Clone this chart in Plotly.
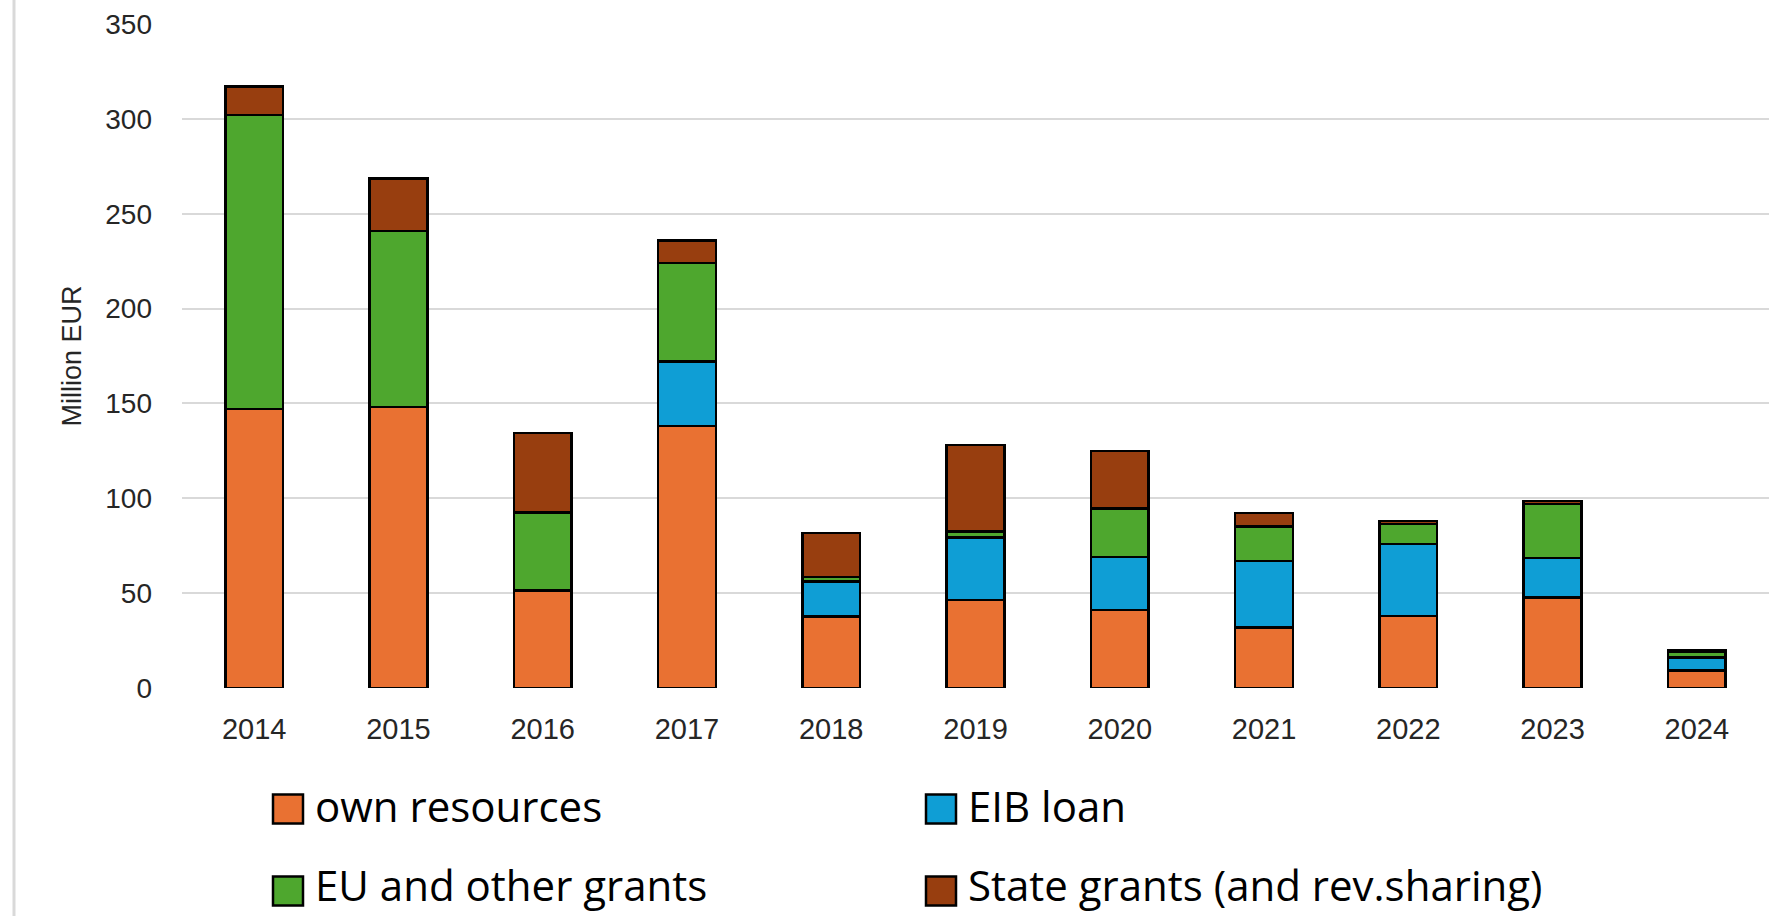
import plotly.graph_objects as go

# Financing of investments by source, million EUR
years = ["2014", "2015", "2016", "2017", "2018", "2019", "2020", "2021", "2022", "2023", "2024"]
own_resources = [147, 148, 51.5, 138, 37.6, 46.4, 41, 32, 38, 47.6, 9.3]
eib_loan = [0, 0, 0, 34, 18.5, 33, 28, 35, 38, 21, 6.7]
eu_other_grants = [155, 93, 41, 52, 2.3, 3, 25.7, 18, 10.5, 28.5, 3]
state_grants = [15, 27.5, 42, 12, 23.2, 45.6, 30.2, 7.3, 1.5, 1.5, 1]

series = [
    ("own resources", own_resources, "#E97132"),
    ("EIB loan", eib_loan, "#0F9ED5"),
    ("EU and other grants", eu_other_grants, "#4EA72E"),
    ("State grants (and rev.sharing)", state_grants, "#983E0F"),
]

W, H = 1778, 916
ML, MR, MT, MB = 182, 9, 24, 228
PW, PH = W - ML - MR, H - MT - MB

fig = go.Figure()
for name, vals, color in series:
    fig.add_trace(go.Bar(
        name=name, x=years, y=vals,
        marker=dict(color=color, line=dict(color="#000000", width=2.5)),
        hoverinfo="x+y+name",
    ))

axis_font = dict(family="Liberation Sans, Arial, sans-serif", size=28, color="#262626")

fig.update_layout(
    width=W, height=H,
    margin=dict(l=ML, r=MR, t=MT, b=MB),
    barmode="stack", bargap=0.6,
    paper_bgcolor="white", plot_bgcolor="white",
    showlegend=False,
    xaxis=dict(
        type="category", showgrid=False, showline=False, zeroline=False,
        ticks="", tickfont=dict(axis_font, size=29), ticklabelstandoff=21,
        automargin=False,
    ),
    yaxis=dict(
        range=[0, 350], dtick=50, showgrid=True, gridcolor="#D9D9D9", gridwidth=2,
        zeroline=False, showline=False, ticks="", tickfont=axis_font,
        ticklabelstandoff=29, automargin=False,
        title=dict(text="Million EUR", font=dict(axis_font, size=27), standoff=15),
    ),
)

# light frame line on the left edge of the chart
def px_x(px):
    return (px - ML) / PW

def px_y(py):
    return (H - MB - py) / PH

fig.add_shape(type="line", xref="paper", yref="paper",
              x0=px_x(14), x1=px_x(14), y0=px_y(0), y1=px_y(H),
              line=dict(color="#D9D9D9", width=3))

# legend: two columns, two rows
legend_cols = [273, 926]
swatch_rows = [809, 891]
text_rows = [805, 884]
legend_font = dict(family="Open Sans, Noto Sans, sans-serif", size=42, color="#000000")
for i, (name, _, color) in enumerate(series):
    cx = legend_cols[i % 2]
    cy = swatch_rows[i // 2]
    fig.add_shape(type="rect", xref="paper", yref="paper",
                  x0=px_x(cx), x1=px_x(cx + 30), y0=px_y(cy - 14.5), y1=px_y(cy + 14.5),
                  fillcolor=color, line=dict(color="#000000", width=2.5))
    fig.add_annotation(xref="paper", yref="paper", x=px_x(cx + 41), y=px_y(text_rows[i // 2]),
                       xanchor="left", yanchor="middle", showarrow=False, borderpad=0,
                       text=name, font=legend_font)

fig.write_html("out.html")
